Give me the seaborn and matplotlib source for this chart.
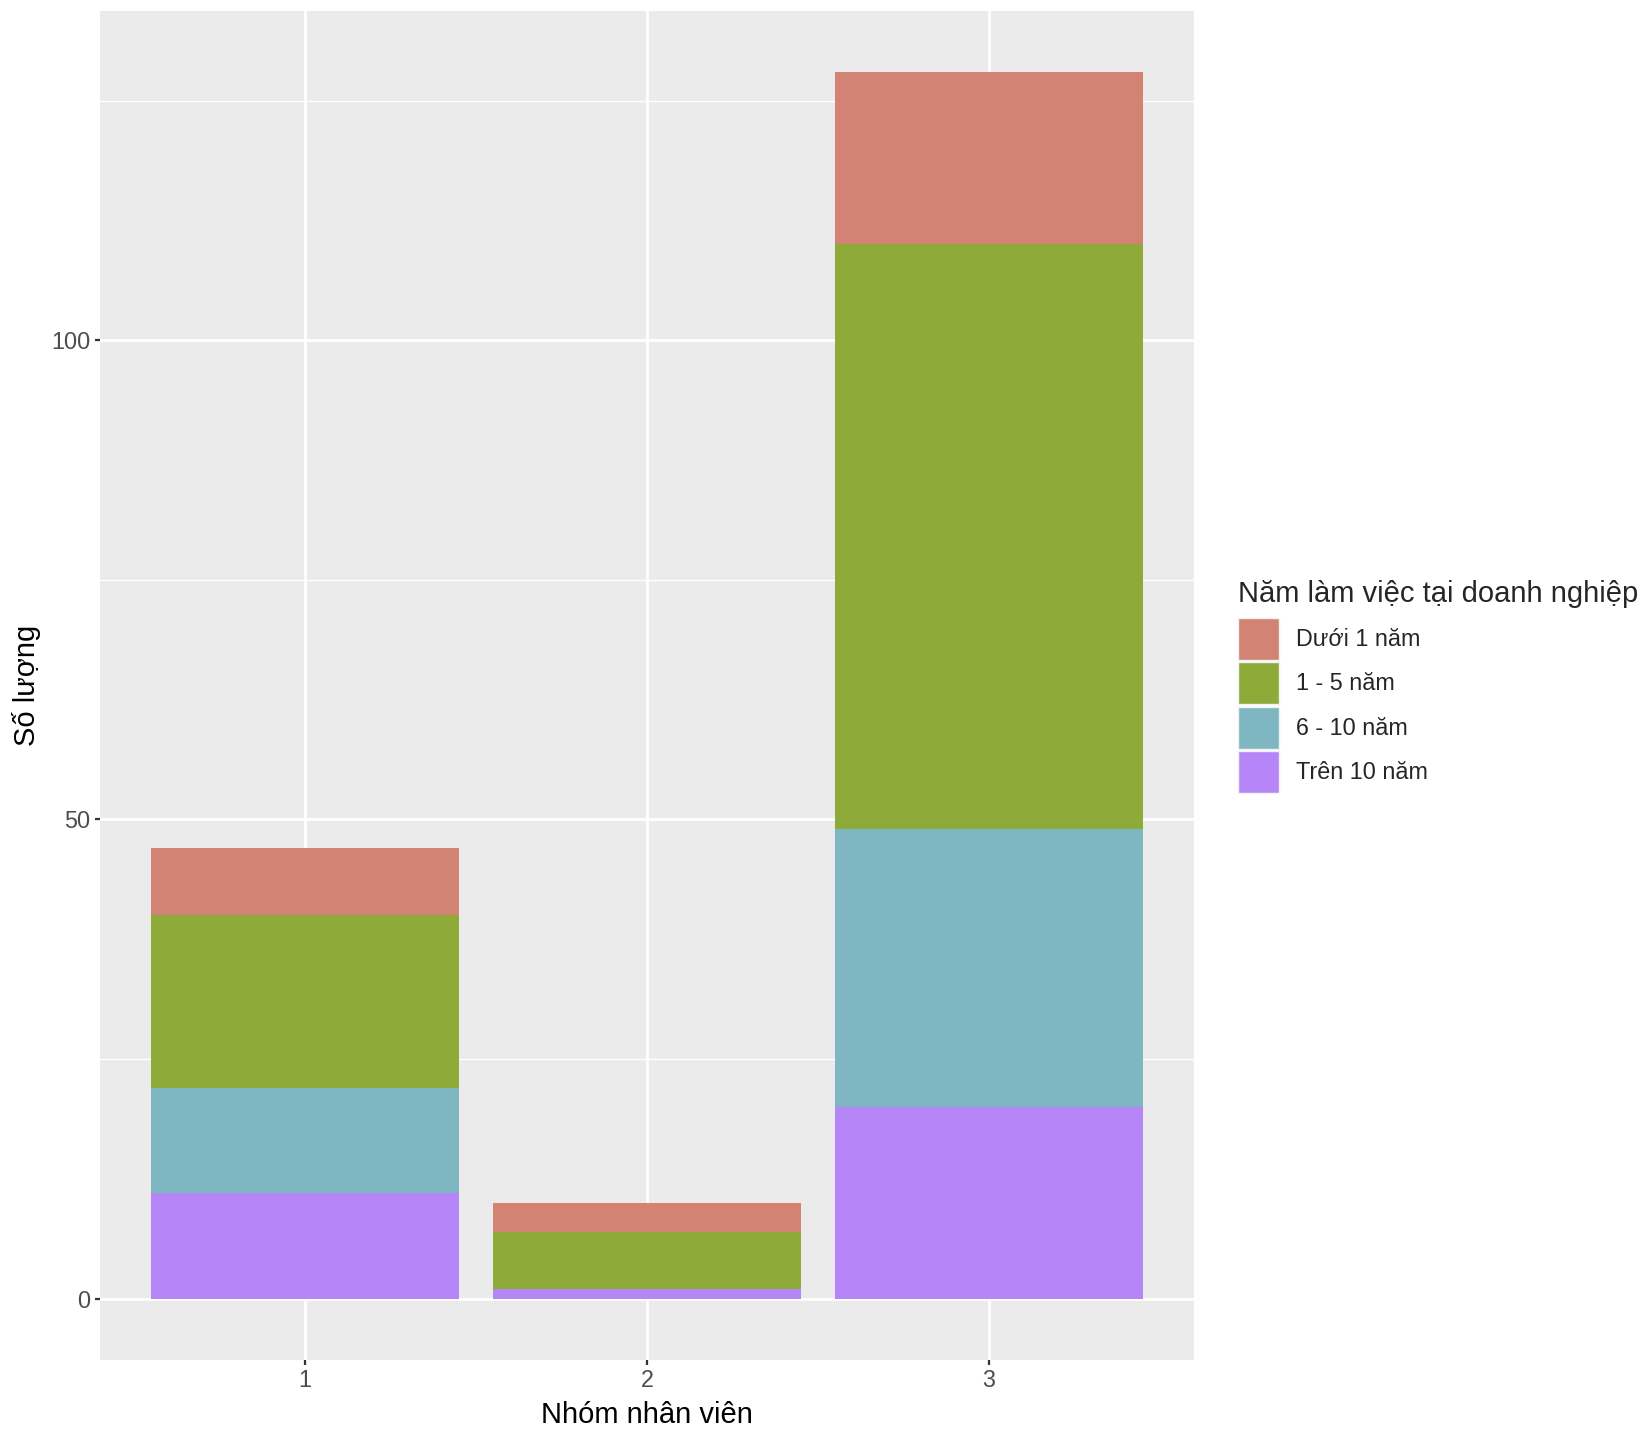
import pandas as pd
import matplotlib.pyplot as plt
import seaborn as sns
from matplotlib.patches import Patch
from matplotlib.ticker import MultipleLocator

# Dữ liệu: số lượng nhân viên theo nhóm và số năm làm việc
groups = [1, 2, 3]
levels = ['Dưới 1 năm', '1 - 5 năm', '6 - 10 năm', 'Trên 10 năm']
duoi_1_nam = [7, 3, 18]
nam_1_5 = [18, 6, 61]
nam_6_10 = [11, 0, 29]
tren_10_nam = [11, 1, 20]
colors = ['#D38374', '#8EAB3A', '#7EB7C2', '#B686F8']

rows = []
for level, counts in zip(levels, [duoi_1_nam, nam_1_5, nam_6_10, tren_10_nam]):
    for g, c in zip(groups, counts):
        rows.append({'nhom': g, 'nam': level, 'so_luong': c})
df = pd.DataFrame(rows)

# Giao diện kiểu ggplot
sns.set_theme(style='darkgrid', rc={
    'axes.facecolor': '#EBEBEB',
    'figure.facecolor': 'white',
    'grid.color': 'white',
    'xtick.color': '#333333',
    'ytick.color': '#333333',
})
plt.rcParams['font.family'] = ['Liberation Sans', 'DejaVu Sans']

fig = plt.figure(figsize=(16.5, 14.34), dpi=100)
ax = fig.add_axes([100 / 1650, 1 - 1360 / 1434, 1094 / 1650, 1349.5 / 1434])

sns.histplot(data=df, x='nhom', weights='so_luong', hue='nam', hue_order=levels,
             palette=colors, multiple='stack', discrete=True, shrink=0.9,
             alpha=1, linewidth=0, legend=False, ax=ax)

ax.set_xlim(0.4, 3.6)
ax.set_ylim(-6.4, 134.4)
ax.set_xticks(groups)
ax.set_xticklabels([str(g) for g in groups])
ax.set_yticks([0, 50, 100])
ax.yaxis.set_minor_locator(MultipleLocator(25))

ax.grid(which='major', color='white', linewidth=2.0)
ax.grid(which='minor', axis='y', color='white', linewidth=1.0)
ax.set_axisbelow(True)
for s in ax.spines.values():
    s.set_visible(False)

ax.tick_params(which='major', length=3.8, width=1.6, pad=3,
               labelsize=16.8, labelcolor='#4D4D4D', bottom=True, left=True)
ax.tick_params(which='minor', length=0)

ax.set_xlabel('Nhóm nhân viên', fontsize=21, color='black', labelpad=6)
ax.set_ylabel('Số lượng', fontsize=21, color='black', labelpad=7.6)

# Chú thích
handles = [Patch(facecolor=c, edgecolor='#F2F2F2', linewidth=1.0, label=l)
           for c, l in zip(colors, levels)]
leg = fig.legend(handles=handles, title='Năm làm việc tại doanh nghiệp',
                 loc='upper left', bbox_to_anchor=(1238 / 1650, 1 - 580 / 1434),
                 frameon=False, fontsize=16.8, title_fontsize=21,
                 handlelength=1.76, handleheight=2.4, handletextpad=0.73,
                 labelspacing=0.1, borderpad=0, borderaxespad=0)
leg._legend_box.align = 'left'
leg._legend_box.sep = 7

fig.savefig('out.png', dpi=100)
